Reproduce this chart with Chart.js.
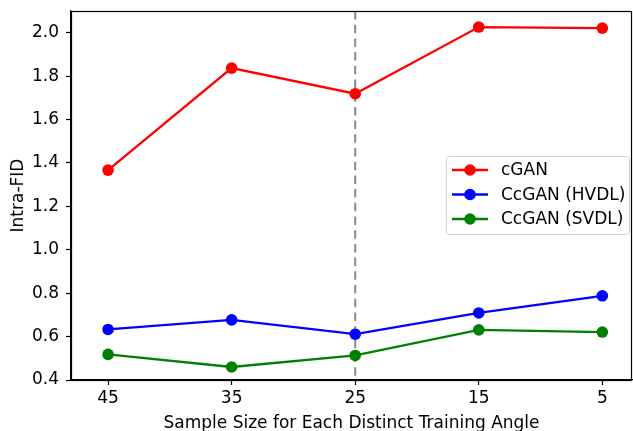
<!DOCTYPE html>
<html>
<head>
<meta charset="utf-8">
<script src="https://cdn.jsdelivr.net/npm/chart.js@4/dist/chart.umd.min.js"></script>
<style>
  html, body { margin: 0; padding: 0; background: #fff; }
  #wrap { width: 633px; height: 431px; position: relative; }
</style>
</head>
<body>
<div id="wrap"><canvas id="c" width="633" height="431"></canvas></div>
<script>
// Sample sizes per training angle (x axis, shown decreasing left to right)
const sampleSizes = [45, 35, 25, 15, 5];
// Intra-FID for each method
const cganFID = [1.367, 1.837, 1.719, 2.026, 2.021];
const hvdlFID = [0.633, 0.677, 0.611, 0.709, 0.788];
const svdlFID = [0.518, 0.460, 0.513, 0.631, 0.621];
const yTicks = [0.4, 0.6, 0.8, 1.0, 1.2, 1.4, 1.6, 1.8, 2.0];
// Sample size marked with the dashed reference line
const markedSize = 25;

const FONT = 'DejaVu Sans';
const FS = 17;

function series(label, values, color) {
  return {
    label: label,
    data: sampleSizes.map((s, i) => ({ x: s, y: values[i] })),
    borderColor: color,
    backgroundColor: color,
    pointBackgroundColor: color,
    pointBorderColor: color,
    pointRadius: 5.8,
    pointBorderWidth: 0,
    borderWidth: 2.3,
    tension: 0,
    fill: false
  };
}

// keep the plot frame flush with the layout padding (no room reserved for edge labels)
function noEdgePadding(scale) {
  scale._calculatePadding = function () {
    this.paddingLeft = 0;
    this.paddingRight = 0;
    this.paddingTop = 0;
    this.paddingBottom = 0;
  };
}

// stretch the plot area to one pixel short of the canvas' right edge
const fullWidthPlot = {
  id: 'fullWidthPlot',
  afterLayout(chart) {
    const ca = chart.chartArea;
    const target = chart.width - 1;
    if (ca.right !== target) {
      ca.right = target;
      ca.width = ca.right - ca.left;
      const x = chart.scales.x;
      x.right = target;
      x.width = x.right - x.left;
      x.configure();
    }
  }
};

const frameAndRefLine = {
  id: 'frameAndRefLine',
  beforeDatasetsDraw(chart) {
    const { ctx, chartArea, scales } = chart;
    const x = scales.x.getPixelForValue(markedSize);
    ctx.save();
    ctx.strokeStyle = '#8a8a8a';
    ctx.lineWidth = 2;
    ctx.setLineDash([8.5, 5.2]);
    ctx.beginPath();
    ctx.moveTo(x, chartArea.top);
    ctx.lineTo(x, chartArea.bottom);
    ctx.stroke();
    ctx.restore();
  },
  afterDraw(chart) {
    const { ctx, chartArea } = chart;
    ctx.save();
    ctx.strokeStyle = '#000';
    ctx.lineWidth = 1.2;
    ctx.strokeRect(chartArea.left + 0.5, chartArea.top + 0.5,
                   chartArea.right - chartArea.left - 1, chartArea.bottom - chartArea.top);
    ctx.restore();

    // legend box
    const bx = 446.5, by = 156.5, bw = 183, bh = 78;
    ctx.save();
    ctx.fillStyle = 'rgba(255,255,255,0.85)';
    ctx.strokeStyle = '#d0d0d0';
    ctx.lineWidth = 1;
    ctx.beginPath();
    ctx.roundRect(bx, by, bw, bh, 3);
    ctx.fill();
    ctx.stroke();
    ctx.font = FS + 'px "' + FONT + '"';
    ctx.textBaseline = 'middle';
    ctx.textAlign = 'left';
    const rows = [170, 194.5, 219];
    chart.data.datasets.forEach((ds, i) => {
      const y = rows[i];
      ctx.strokeStyle = ds.borderColor;
      ctx.lineWidth = 2.3;
      ctx.beginPath();
      ctx.moveTo(452, y);
      ctx.lineTo(488, y);
      ctx.stroke();
      ctx.fillStyle = ds.borderColor;
      ctx.beginPath();
      ctx.arc(470, y, 5.8, 0, Math.PI * 2);
      ctx.fill();
      ctx.fillStyle = '#000';
      ctx.fillText(ds.label, 501, y + 1);
    });
    ctx.restore();
  }
};

new Chart(document.getElementById('c'), {
  type: 'line',
  data: {
    datasets: [
      series('cGAN', cganFID, '#ff0000'),
      series('CcGAN (HVDL)', hvdlFID, '#0000ff'),
      series('CcGAN (SVDL)', svdlFID, '#008000')
    ]
  },
  options: {
    responsive: false,
    animation: false,
    devicePixelRatio: 1,
    layout: { padding: { top: 11, right: 1, left: 0, bottom: 0 } },
    plugins: { legend: { display: false }, tooltip: { enabled: false } },
    scales: {
      x: {
        type: 'linear',
        reverse: true,
        min: 2.6,
        max: 48,
        afterBuildTicks(scale) { scale.ticks = sampleSizes.map(v => ({ value: v })); noEdgePadding(scale); },
        afterFit(scale) { scale.height = 51; },
        grid: { drawOnChartArea: false, drawTicks: true, tickLength: 5, tickColor: '#000', tickWidth: 1.2 },
        border: { display: true, color: '#000', width: 1.2 },
        ticks: { color: '#000', font: { family: FONT, size: FS }, padding: 3, maxRotation: 0, autoSkip: false,
                 callback: v => String(v) },
        title: { display: true, text: 'Sample Size for Each Distinct Training Angle', color: '#000',
                 font: { family: FONT, size: FS }, padding: { top: 0, bottom: -3 } }
      },
      y: {
        type: 'linear',
        min: 0.4,
        max: 2.1,
        afterBuildTicks(scale) { scale.ticks = yTicks.map(v => ({ value: v })); noEdgePadding(scale); },
        afterFit(scale) { scale.width = 71; },
        grid: { drawOnChartArea: false, drawTicks: true, tickLength: 5, tickColor: '#000', tickWidth: 1.2 },
        border: { display: true, color: '#000', width: 1.2 },
        ticks: { color: '#000', font: { family: FONT, size: FS }, padding: 7, autoSkip: false,
                 callback: v => v.toFixed(1) },
        title: { display: true, text: 'Intra-FID', color: '#000',
                 font: { family: FONT, size: FS }, padding: { top: 8, bottom: 0 } }
      }
    }
  },
  plugins: [fullWidthPlot, frameAndRefLine]
});
</script>
</body>
</html>
